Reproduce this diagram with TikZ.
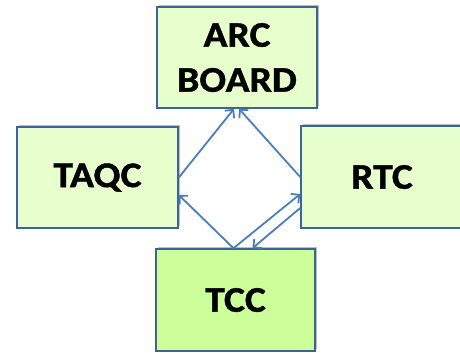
\documentclass[tikz,border=0pt]{standalone}
\usepackage{fontspec}
\setmainfont{Carlito}[BoldFeatures={FakeStretch=1.1,FakeBold=1.2}]
\usetikzlibrary{arrows.meta,shadows}
\definecolor{boxfill}{HTML}{E6FFCC}
\definecolor{tccfill}{HTML}{CCFF99}
\definecolor{boxline}{HTML}{3D6496}
\definecolor{arrowcol}{HTML}{4A7EBB}
\tikzset{
  box/.style={draw=boxline, line width=1.6bp, fill=boxfill, align=center,
    inner sep=0pt,
    font=\fontsize{36bp}{45bp}\selectfont\bfseries,
    drop shadow={shadow xshift=2bp, shadow yshift=2bp, fill=black!25, opacity=1}},
  conn/.style={draw=arrowcol, line width=1.8bp, -{Straight Barb[length=6bp,width=12bp]}}
}
\begin{document}
\begin{tikzpicture}[x=1bp,y=-1bp]
\useasboundingbox (0,0) rectangle (460,352);
\node[box, minimum width=160bp, minimum height=101bp] (arc) at (237,57.5) {ARC\\BOARD};
\node[box, minimum width=161bp, minimum height=101bp] (taqc) at (97.5,177.5) {TAQC};
\node[box, minimum width=162bp, minimum height=102bp] (rtc) at (382,177) {RTC};
\node[box, fill=tccfill, minimum width=159bp, minimum height=102bp] (tcc) at (235.5,300) {TCC};
\draw[conn] (taqc.east) -- ([xshift=-3bp]arc.south);
\draw[conn] (rtc.west) -- ([xshift=2bp]arc.south);
\draw[conn] ([xshift=-2bp]tcc.north) -- ([yshift=-17.5bp]taqc.east);
\draw[conn] ([xshift=-2bp]tcc.north) -- ([yshift=-17bp]rtc.west);
\draw[conn] ([yshift=-31bp]rtc.west) -- ([xshift=17bp]tcc.north);
\end{tikzpicture}
\end{document}
